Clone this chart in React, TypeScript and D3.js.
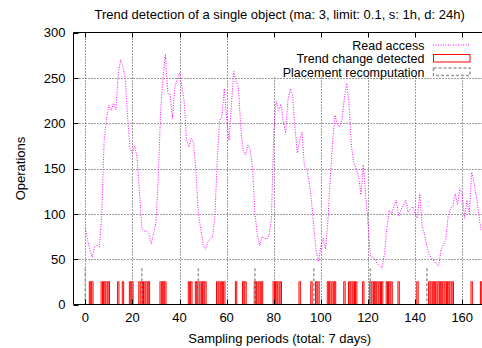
import React from "react";
import * as d3 from "d3";

// Read access per sampling period (1h each), periods 0..168
const readAccess: number[] = [
  84, 71, 60, 52, 64, 66, 63, 100, 180, 205,
  220, 214, 222, 215, 255, 270, 262, 249, 205, 172,
  167, 175, 162, 125, 84, 81, 81, 78, 67, 78,
  90, 140, 215, 250, 276, 233, 232, 205, 240, 248,
  256, 240, 224, 181, 174, 183, 178, 145, 100, 84,
  66, 61, 69, 72, 74, 97, 159, 203, 207, 238,
  205, 181, 218, 257, 246, 240, 195, 170, 165, 176,
  171, 150, 100, 78, 65, 75, 73, 72, 76, 95,
  190, 224, 214, 221, 203, 189, 225, 238, 231, 195,
  167, 181, 190, 152, 150, 135, 115, 85, 60, 47,
  64, 73, 61, 93, 140, 180, 209, 198, 196, 205,
  229, 244, 218, 174, 156, 150, 141, 121, 154, 122,
  89, 53, 52, 50, 45, 42, 40, 56, 84, 104,
  100, 108, 115, 97, 105, 109, 115, 102, 105, 108,
  100, 95, 122, 86, 78, 64, 55, 51, 48, 45,
  43, 60, 66, 71, 97, 106, 108, 122, 110, 128,
  122, 95, 115, 100, 146, 134, 119, 100, 82,
];

// Periods where a trend change was detected
const trendChanges: number[] = [
  2, 3, 7, 8, 9, 10, 14, 16, 19, 20, 23, 24, 25, 26, 27, 32, 33, 34,
  44, 45, 47, 48, 49, 50, 51, 56, 57, 58, 59, 64, 67, 68, 72, 73, 74, 75,
  80, 81, 82, 83, 91, 96, 98, 99, 103, 104, 105, 106, 110, 112, 113, 114, 115,
  118, 121, 122, 123, 124, 125, 126, 128, 129, 130, 133, 141,
  146, 147, 148, 149, 150, 151, 152, 153, 154, 155, 156, 164, 168,
];

// Periods where a placement recomputation happened
const placements: number[] = [0, 24, 48, 72, 97, 121, 145];

const trendLevel = 25;
const placementLevel = 40;

const xTicks: number[] = [0, 20, 40, 60, 80, 100, 120, 140, 160];
const yTicks: number[] = [0, 50, 100, 150, 200, 250, 300];

const title = "Trend detection of a single object (ma: 3, limit: 0.1, s: 1h, d: 24h)";
const xLabel = "Sampling periods (total: 7 days)";
const yLabel = "Operations";
const legendLabels = ["Read access", "Trend change detected", "Placement recomputation"];

const FONT = "'Liberation Sans', Arial, Helvetica, sans-serif";

export default function App() {
  const W = 482;
  const H = 348;
  const left = 73.5;
  const top = 32.5;
  const bottom = 304.5;
  const x = d3.scaleLinear().domain([-5, 170]).range([left, 485.8]);
  const y = d3.scaleLinear().domain([0, 300]).range([bottom, top]);
  const right = x(170);

  const linePath = d3
    .line<number>()
    .x((_, i) => x(i))
    .y((d) => y(d))(readAccess) as string;

  const barW = x(1) - x(0);

  return (
    <svg
      width={W}
      height={H}
      viewBox={`0 0 ${W} ${H}`}
      style={{ position: "absolute", left: 0, top: 0, background: "#fff" }}
      fontFamily={FONT}
    >
      <rect x={0} y={0} width={W} height={H} fill="#fff" />
      <defs>
        <clipPath id="plotclip">
          <rect x={left} y={top} width={right - left} height={bottom - top} />
        </clipPath>
      </defs>

      {/* grid */}
      <g stroke="#000" strokeWidth={1} strokeDasharray="1 2" opacity={0.75}>
        {xTicks.map((t) => (
          <line key={"gx" + t} x1={Math.round(x(t)) + 0.5} x2={Math.round(x(t)) + 0.5} y1={top} y2={bottom} />
        ))}
        {yTicks
          .filter((t) => t > 0 && t < 300)
          .map((t) => (
            <line key={"gy" + t} x1={left} x2={right} y1={Math.round(y(t)) + 0.5} y2={Math.round(y(t)) + 0.5} />
          ))}
      </g>

      {/* opaque legend area */}
      <rect x={262} y={top + 0.5} width={W - 262} height={77 - top - 0.5} fill="#fff" />

      {/* trend change bars */}
      <g clipPath="url(#plotclip)">
        {trendChanges.map((t) => (
          <rect
            key={"tc" + t}
            x={x(t) - barW / 2 + 0.5}
            y={y(trendLevel)}
            width={barW - 1}
            height={y(0) - y(trendLevel)}
            fill="none"
            stroke="#ff0000"
            strokeWidth={1}
          />
        ))}
      </g>

      {/* placement recomputation */}
      <g stroke="#9a9a9a" strokeWidth={1.5} strokeDasharray="3 2">
        {placements.map((t) => (
          <line key={"pl" + t} x1={x(t)} x2={x(t)} y1={y(placementLevel)} y2={y(0)} />
        ))}
      </g>

      {/* read access line */}
      <path
        d={linePath}
        fill="none"
        stroke="#ff00ff"
        strokeWidth={1}
        strokeDasharray="1 1.5"
        clipPath="url(#plotclip)"
      />

      {/* frame */}
      <g stroke="#000" strokeWidth={1} fill="none">
        <line x1={left} x2={left} y1={top} y2={bottom} />
        <line x1={left} x2={right} y1={bottom} y2={bottom} />
        <line x1={left} x2={right} y1={top} y2={top} />
        <line x1={right} x2={right} y1={top} y2={bottom} />
        {xTicks.map((t) => (
          <g key={"tx" + t}>
            <line x1={Math.round(x(t)) + 0.5} x2={Math.round(x(t)) + 0.5} y1={bottom} y2={bottom - 5} />
            <line x1={Math.round(x(t)) + 0.5} x2={Math.round(x(t)) + 0.5} y1={top} y2={top + 5} />
          </g>
        ))}
        {yTicks.map((t) => (
          <line key={"ty" + t} x1={left} x2={left + 5} y1={Math.round(y(t)) + 0.5} y2={Math.round(y(t)) + 0.5} />
        ))}
      </g>

      {/* tick labels */}
      <g fontSize={13} fill="#000">
        {xTicks.map((t) => (
          <text key={"lx" + t} x={x(t)} y={321.5} textAnchor="middle">
            {t}
          </text>
        ))}
        {yTicks.map((t) => (
          <text key={"ly" + t} x={65.5} y={y(t) + 4.7} textAnchor="end">
            {t}
          </text>
        ))}
      </g>

      {/* titles */}
      <text x={(left + right) / 2} y={18.5} textAnchor="middle" fontSize={13}>
        {title}
      </text>
      <text x={(left + right) / 2} y={342.5} textAnchor="middle" fontSize={13}>
        {xLabel}
      </text>
      <text
        transform={`translate(24.5, ${(top + bottom) / 2}) rotate(-90)`}
        textAnchor="middle"
        fontSize={13}
      >
        {yLabel}
      </text>

      {/* legend */}
      <g fontSize={12.5}>
        {legendLabels.map((l, i) => (
          <text key={"lg" + i} x={424.5} y={49.5 + i * 13.5} textAnchor="end">
            {l}
          </text>
        ))}
        <line x1={433} x2={470} y1={45} y2={45} stroke="#ff00ff" strokeWidth={1} strokeDasharray="1 1.5" />
        <rect x={433.5} y={54.5} width={36.5} height={7.5} fill="none" stroke="#ff0000" strokeWidth={1} />
        <rect x={433.5} y={68} width={36.5} height={7.5} fill="none" stroke="#9a9a9a" strokeWidth={1.5} strokeDasharray="3 2" />
      </g>
    </svg>
  );
}
